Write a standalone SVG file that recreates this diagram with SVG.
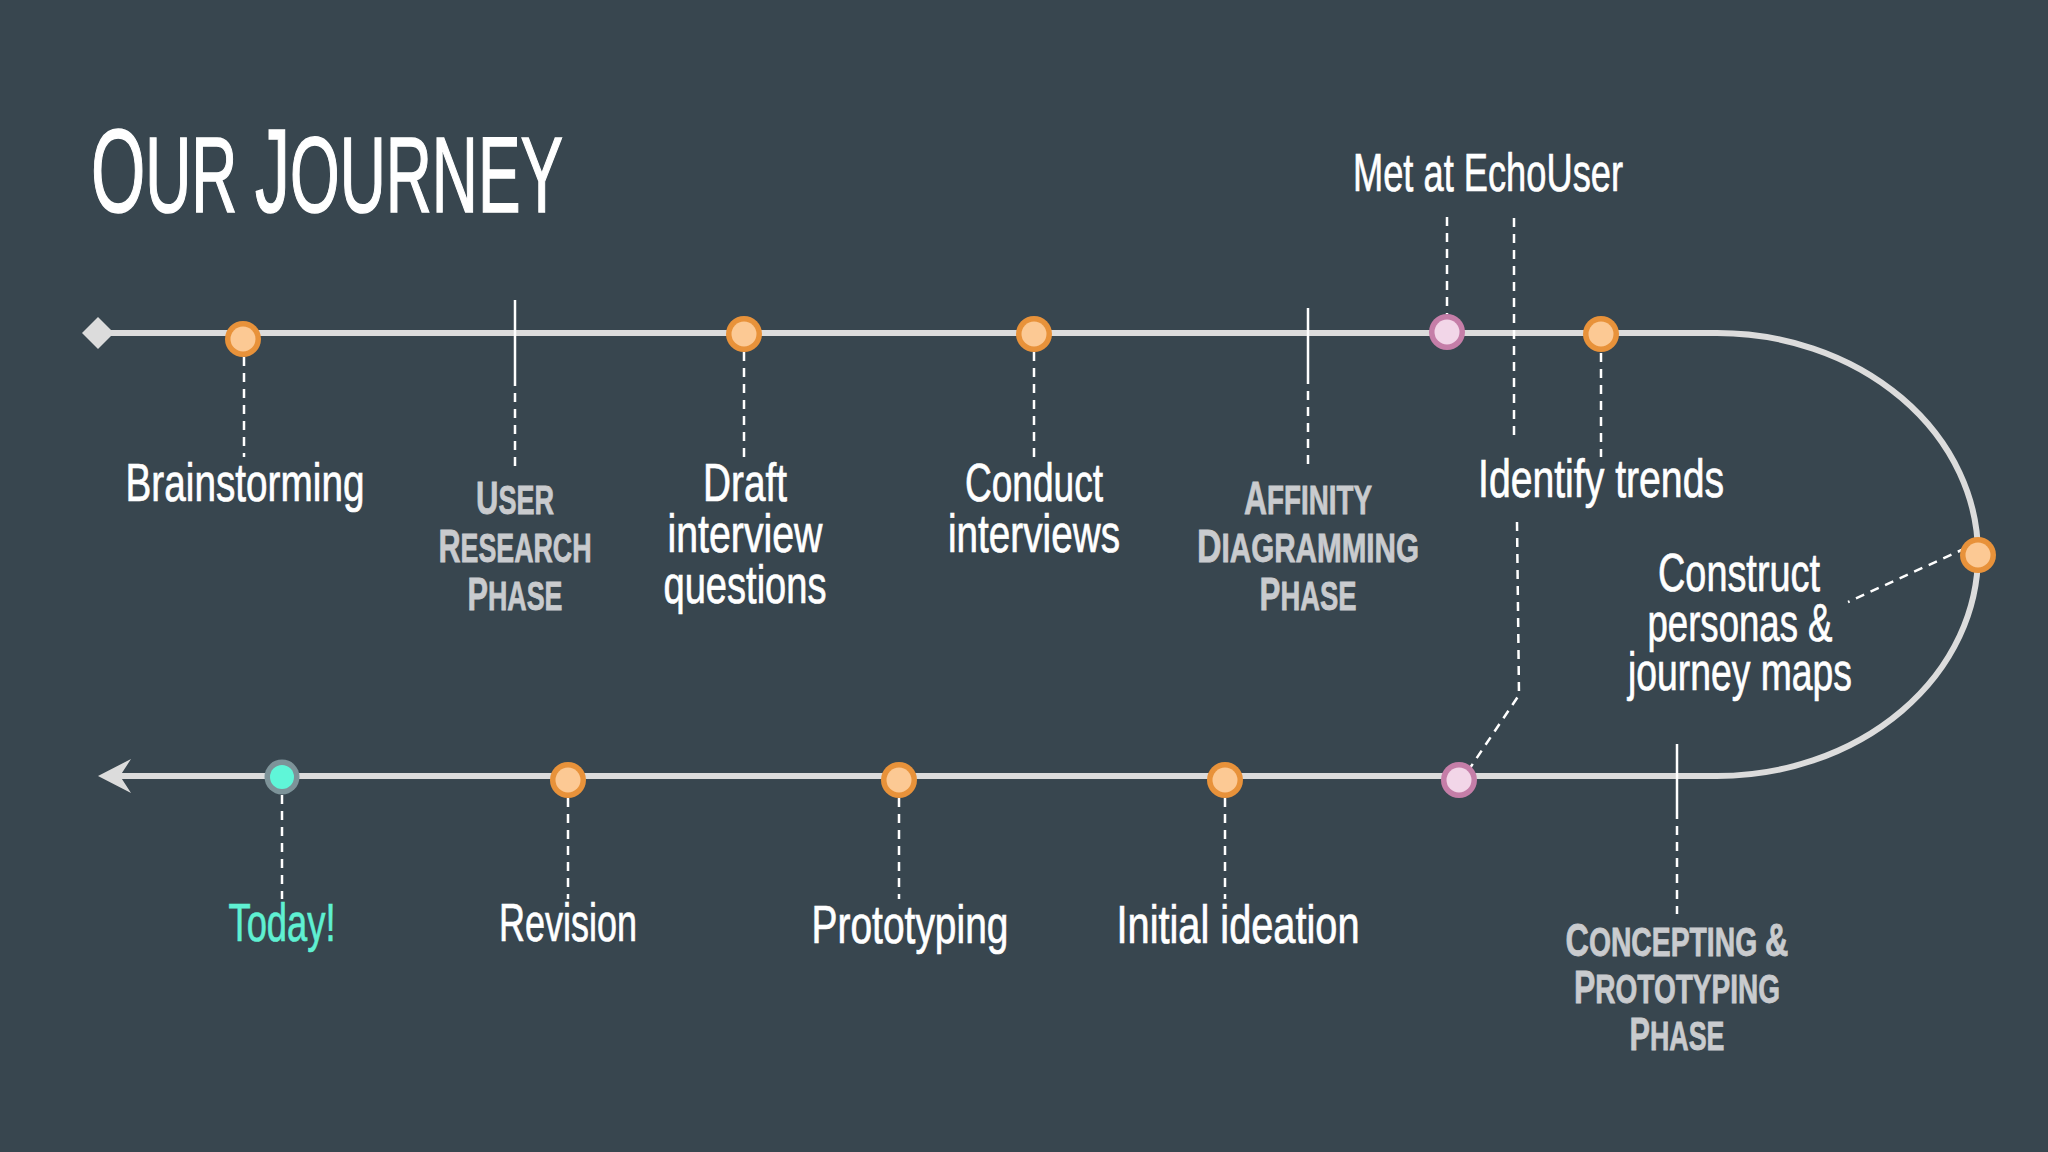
<svg xmlns="http://www.w3.org/2000/svg" width="2048" height="1152" viewBox="0 0 2048 1152">
<style>
.bg{fill:#38464f}
.track{fill:none;stroke:#dcdcdc;stroke-width:6}
.cap{fill:#dcdcdc}
.dash{fill:none;stroke:#ffffff;stroke-width:2.5;stroke-dasharray:9 7}
.solid{fill:none;stroke:#ffffff;stroke-width:2.5}
.o-out{fill:#e8923a}.o-in{fill:#fcc994}
.p-out{fill:#c57ea8}.p-in{fill:#f2d6e8}
.t-out{fill:#7d9399}.t-in{fill:#5ff6d8}
text{font-family:"Liberation Sans Narrow","Liberation Sans",Arial,sans-serif}
.title{fill:#ffffff;stroke:#ffffff;stroke-width:1.5;font-size:108px}
.title.big{font-size:118px}
.lbl{fill:#ffffff;stroke:#ffffff;stroke-width:0.7;font-size:53px;text-anchor:middle}
.today{fill:#5ff0d2;stroke:#5ff0d2}
.phase{fill:#c9cbce;stroke:#c9cbce;stroke-width:0.8;font-size:41px;font-weight:bold}
.phase.big{font-size:47px}
</style>
<rect class="bg" x="0" y="0" width="2048" height="1152"/>
<g id="title">
<text class="title big" x="91" y="212" textLength="54.3" lengthAdjust="spacingAndGlyphs">O</text>
<text class="title" x="145.3" y="212" textLength="92.1" lengthAdjust="spacingAndGlyphs">UR</text>
<text class="title big" x="255.1" y="212" textLength="34.9" lengthAdjust="spacingAndGlyphs">J</text>
<text class="title" x="290" y="212" textLength="273" lengthAdjust="spacingAndGlyphs">OURNEY</text>
</g>

<g id="connectors">
  <path class="track" d="M98 333 H1717 A261 221.5 0 0 1 1717 776 H118"/>
  <polygon class="cap" points="82,333 98,317 114,333 98,349"/>
  <polygon class="cap" points="98,776 131,759 120,776 131,793"/>
  <path class="dash" d="M244 357 V457"/>
  <path class="dash" d="M744 352 V457"/>
  <path class="dash" d="M1034 352 V457"/>
  <path class="dash" d="M1447 217 V314"/>
  <path class="dash" d="M1514 218 V442"/>
  <path class="dash" d="M1517 522 L1519 695 L1470 768"/>
  <path class="dash" d="M1601 353 V457"/>
  <path class="dash" d="M1966 548 L1848 602"/>
  <path class="dash" d="M282 795 V899"/>
  <path class="dash" d="M568 798 V899"/>
  <path class="dash" d="M899 798 V899"/>
  <path class="dash" d="M1225 798 V899"/>
  <path class="solid" d="M515 300 V377"/>
  <path class="dash" d="M515 377 V470"/>
  <path class="solid" d="M1308 308 V375"/>
  <path class="dash" d="M1308 375 V468"/>
  <path class="solid" d="M1677 744 V810"/>
  <path class="dash" d="M1677 810 V914"/>
</g>

<g id="n-brainstorming"><circle class="o-out" cx="243" cy="339" r="18"/><circle class="o-in" cx="243" cy="339" r="12.5"/>
  <text class="lbl" x="245" y="501" textLength="239" lengthAdjust="spacingAndGlyphs">Brainstorming</text></g>
<g id="p-user-research">
  <text class="phase big" x="476" y="514" textLength="22.4" lengthAdjust="spacingAndGlyphs">U</text>
  <text class="phase" x="498.4" y="514" textLength="55.6" lengthAdjust="spacingAndGlyphs">SER</text>
  <text class="phase big" x="438.5" y="562" textLength="22.1" lengthAdjust="spacingAndGlyphs">R</text>
  <text class="phase" x="460.6" y="562" textLength="130.9" lengthAdjust="spacingAndGlyphs">ESEARCH</text>
  <text class="phase big" x="467.5" y="610" textLength="20.5" lengthAdjust="spacingAndGlyphs">P</text>
  <text class="phase" x="488" y="610" textLength="74.5" lengthAdjust="spacingAndGlyphs">HASE</text>
</g>
<g id="n-draft"><circle class="o-out" cx="744" cy="334" r="18"/><circle class="o-in" cx="744" cy="334" r="12.5"/>
  <text class="lbl" x="745" y="501" textLength="84" lengthAdjust="spacingAndGlyphs">Draft</text>
  <text class="lbl" x="745" y="552" textLength="155" lengthAdjust="spacingAndGlyphs">interview</text>
  <text class="lbl" x="745" y="603" textLength="163" lengthAdjust="spacingAndGlyphs">questions</text></g>
<g id="n-conduct"><circle class="o-out" cx="1034" cy="334" r="18"/><circle class="o-in" cx="1034" cy="334" r="12.5"/>
  <text class="lbl" x="1034" y="501" textLength="138" lengthAdjust="spacingAndGlyphs">Conduct</text>
  <text class="lbl" x="1034" y="552" textLength="172" lengthAdjust="spacingAndGlyphs">interviews</text></g>
<g id="p-affinity">
  <text class="phase big" x="1244" y="514" textLength="23" lengthAdjust="spacingAndGlyphs">A</text>
  <text class="phase" x="1267" y="514" textLength="105" lengthAdjust="spacingAndGlyphs">FFINITY</text>
  <text class="phase big" x="1197" y="562" textLength="24.5" lengthAdjust="spacingAndGlyphs">D</text>
  <text class="phase" x="1221.5" y="562" textLength="197.5" lengthAdjust="spacingAndGlyphs">IAGRAMMING</text>
  <text class="phase big" x="1259.5" y="610" textLength="20.9" lengthAdjust="spacingAndGlyphs">P</text>
  <text class="phase" x="1280.4" y="610" textLength="76.1" lengthAdjust="spacingAndGlyphs">HASE</text>
</g>
<g id="n-met"><circle class="p-out" cx="1447" cy="332" r="18"/><circle class="p-in" cx="1447" cy="332" r="12.5"/>
  <circle class="p-out" cx="1459" cy="780" r="18"/><circle class="p-in" cx="1459" cy="780" r="12.5"/>
  <text class="lbl" x="1488" y="191" textLength="270" lengthAdjust="spacingAndGlyphs">Met at EchoUser</text></g>
<g id="n-trends"><circle class="o-out" cx="1601" cy="334" r="18"/><circle class="o-in" cx="1601" cy="334" r="12.5"/>
  <text class="lbl" x="1601" y="497" textLength="246" lengthAdjust="spacingAndGlyphs">Identify trends</text></g>
<g id="n-construct"><circle class="o-out" cx="1978" cy="555" r="18"/><circle class="o-in" cx="1978" cy="555" r="12.5"/>
  <text class="lbl" x="1739" y="591" textLength="162" lengthAdjust="spacingAndGlyphs">Construct</text>
  <text class="lbl" x="1740" y="641" textLength="185" lengthAdjust="spacingAndGlyphs">personas &amp;</text>
  <text class="lbl" x="1740" y="690" textLength="224" lengthAdjust="spacingAndGlyphs">journey maps</text></g>
<g id="p-concepting">
  <text class="phase big" x="1565.5" y="956" textLength="23.4" lengthAdjust="spacingAndGlyphs">C</text>
  <text class="phase" x="1588.9" y="956" textLength="168.3" lengthAdjust="spacingAndGlyphs">ONCEPTING</text>
  <text class="phase big" x="1765.1" y="956" textLength="23.4" lengthAdjust="spacingAndGlyphs">&amp;</text>
  <text class="phase big" x="1574" y="1003" textLength="21.3" lengthAdjust="spacingAndGlyphs">P</text>
  <text class="phase" x="1595.3" y="1003" textLength="184.7" lengthAdjust="spacingAndGlyphs">ROTOTYPING</text>
  <text class="phase big" x="1629.5" y="1050" textLength="20.5" lengthAdjust="spacingAndGlyphs">P</text>
  <text class="phase" x="1650" y="1050" textLength="74.5" lengthAdjust="spacingAndGlyphs">HASE</text>
</g>
<g id="n-initial"><circle class="o-out" cx="1225" cy="780" r="18"/><circle class="o-in" cx="1225" cy="780" r="12.5"/>
  <text class="lbl" x="1238" y="943" textLength="243" lengthAdjust="spacingAndGlyphs">Initial ideation</text></g>
<g id="n-prototyping"><circle class="o-out" cx="899" cy="780" r="18"/><circle class="o-in" cx="899" cy="780" r="12.5"/>
  <text class="lbl" x="910" y="943" textLength="197" lengthAdjust="spacingAndGlyphs">Prototyping</text></g>
<g id="n-revision"><circle class="o-out" cx="568" cy="780" r="18"/><circle class="o-in" cx="568" cy="780" r="12.5"/>
  <text class="lbl" x="568" y="941" textLength="138" lengthAdjust="spacingAndGlyphs">Revision</text></g>
<g id="n-today"><circle class="t-out" cx="282" cy="777" r="17.5"/><circle class="t-in" cx="282" cy="777" r="12"/>
  <text class="lbl today" x="282" y="941" textLength="107" lengthAdjust="spacingAndGlyphs">Today!</text></g>
</svg>
